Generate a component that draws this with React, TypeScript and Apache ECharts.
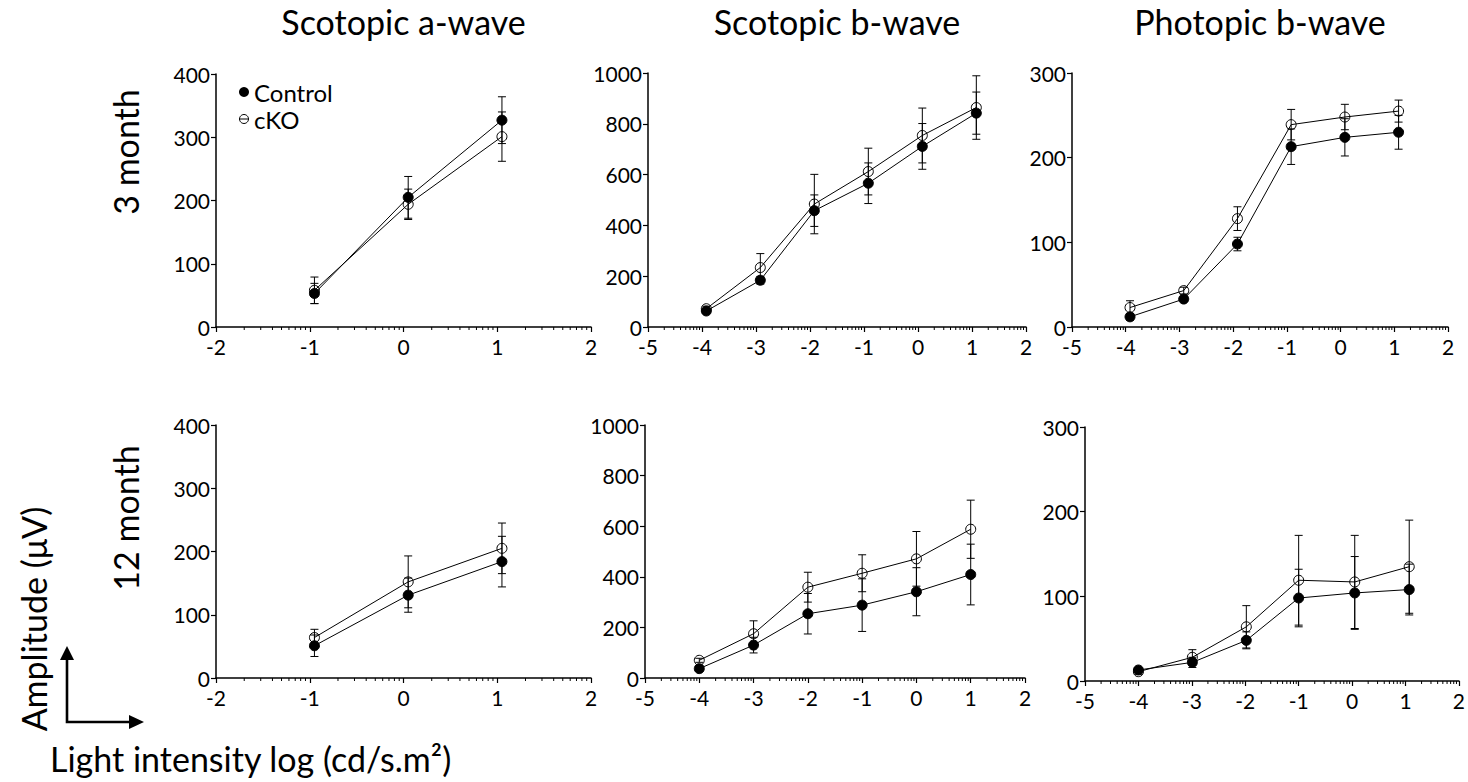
import React, { useEffect, useRef } from "react";
import * as echarts from "echarts";

// ---- data (log light intensity on x, amplitude µV on y) ----
const xA = [-0.95, 0.05, 1.05];
const xB3 = [-3.92, -2.92, -1.92, -0.92, 0.08, 1.08];
const xB12 = [-4, -3, -2, -1, 0, 1];
const xP12 = [-4, -2.99, -1.98, -1, 0.05, 1.07];

const aw3Ctrl = [53, 205, 327];
const aw3CtrlErr = [16, 33, 37];
const aw3Cko = [58, 194, 301];
const aw3CkoErr = [21, 24, 39];

const bw3Ctrl = [63, 184, 458, 566, 711, 842];
const bw3CtrlErr = [10, 15, 62, 80, 90, 83];
const bw3Cko = [72, 234, 484, 612, 754, 864];
const bw3CkoErr = [10, 55, 117, 92, 108, 125];

const pw3Ctrl = [12, 33, 98, 213, 224, 230];
const pw3CtrlErr = [4, 3, 8, 21, 22, 20];
const pw3Cko = [23, 43, 128, 239, 248, 255];
const pw3CkoErr = [8, 4, 14, 18, 15, 13];

const aw12Ctrl = [51, 131, 184];
const aw12CtrlErr = [17, 27, 40];
const aw12Cko = [64, 152, 205];
const aw12CkoErr = [13, 41, 40];

const bw12Ctrl = [37, 130, 254, 288, 341, 409];
const bw12CtrlErr = [10, 31, 80, 104, 95, 120];
const bw12Cko = [70, 175, 359, 414, 471, 588];
const bw12CkoErr = [8, 51, 59, 73, 108, 115];

const pw12Ctrl = [13, 22, 48, 98, 104, 108];
const pw12CtrlErr = [3, 6, 10, 34, 43, 30];
const pw12Cko = [11, 28, 64, 119, 117, 135];
const pw12CkoErr = [3, 9, 25, 53, 55, 55];

const columnTitles = ["Scotopic a-wave", "Scotopic b-wave", "Photopic b-wave"];
const rowTitles = ["3 month", "12 month"];
const seriesNames = ["Control", "cKO"];
const minorMultipliers = [2, 3, 4, 5, 6, 7, 8, 9];

const FONT = "Lato";

type Panel = {
  grid: { left: number; top: number; width: number; height: number };
  xMin: number;
  xMax: number;
  yMax: number;
  yInterval: number;
  x: number[];
  ctrl: number[];
  ctrlErr: number[];
  cko: number[];
  ckoErr: number[];
};

const panels: Panel[] = [
  { grid: { left: 216, top: 74, width: 375, height: 253 }, xMin: -2, xMax: 2, yMax: 400, yInterval: 100, x: xA, ctrl: aw3Ctrl, ctrlErr: aw3CtrlErr, cko: aw3Cko, ckoErr: aw3CkoErr },
  { grid: { left: 648, top: 73, width: 378, height: 254 }, xMin: -5, xMax: 2, yMax: 1000, yInterval: 200, x: xB3, ctrl: bw3Ctrl, ctrlErr: bw3CtrlErr, cko: bw3Cko, ckoErr: bw3CkoErr },
  { grid: { left: 1072, top: 73, width: 376, height: 254 }, xMin: -5, xMax: 2, yMax: 300, yInterval: 100, x: xB3, ctrl: pw3Ctrl, ctrlErr: pw3CtrlErr, cko: pw3Cko, ckoErr: pw3CkoErr },
  { grid: { left: 216, top: 425, width: 375, height: 253 }, xMin: -2, xMax: 2, yMax: 400, yInterval: 100, x: xA, ctrl: aw12Ctrl, ctrlErr: aw12CtrlErr, cko: aw12Cko, ckoErr: aw12CkoErr },
  { grid: { left: 645, top: 425, width: 380, height: 253 }, xMin: -5, xMax: 2, yMax: 1000, yInterval: 200, x: xB12, ctrl: bw12Ctrl, ctrlErr: bw12CtrlErr, cko: bw12Cko, ckoErr: bw12CkoErr },
  { grid: { left: 1085, top: 427, width: 375, height: 254 }, xMin: -5, xMax: 2, yMax: 300, yInterval: 100, x: xP12, ctrl: pw12Ctrl, ctrlErr: pw12CtrlErr, cko: pw12Cko, ckoErr: pw12CkoErr },
];

function buildOption() {
  const grids: any[] = [];
  const xAxes: any[] = [];
  const yAxes: any[] = [];
  const series: any[] = [];

  panels.forEach((p, i) => {
    grids.push({ ...p.grid, containLabel: false });
    xAxes.push({
      type: "value",
      gridIndex: i,
      min: p.xMin,
      max: p.xMax,
      interval: 1,
      splitLine: { show: false },
      axisLine: { show: true, onZero: false, lineStyle: { color: "#000", width: 1.5 } },
      axisTick: { show: true, length: 5, lineStyle: { color: "#000", width: 1.2 } },
      axisLabel: { color: "#000", fontSize: 21, fontFamily: FONT, margin: 9, formatter: (v: number) => String(v) },
    });
    yAxes.push({
      type: "value",
      gridIndex: i,
      min: 0,
      max: p.yMax,
      interval: p.yInterval,
      splitLine: { show: false },
      axisLine: { show: true, onZero: false, lineStyle: { color: "#000", width: 1.5 } },
      axisTick: { show: true, length: 5, lineStyle: { color: "#000", width: 1.2 } },
      axisLabel: { color: "#000", fontSize: 21, fontFamily: FONT, margin: 6, formatter: (v: number) => String(v) },
    });

    // log-style minor ticks between decades
    const minor: number[][] = [];
    for (let k = p.xMin; k < p.xMax; k++) {
      minorMultipliers.forEach((m) => minor.push([k + Math.log10(m), 0]));
    }
    series.push({
      type: "custom",
      xAxisIndex: i,
      yAxisIndex: i,
      data: minor,
      encode: { x: 0, y: 1 },
      silent: true,
      clip: false,
      renderItem: (_params: any, api: any) => {
        const c = api.coord([api.value(0), 0]);
        return {
          type: "line",
          shape: { x1: c[0], y1: c[1], x2: c[0], y2: c[1] + 3 },
          style: { stroke: "#000", lineWidth: 1 },
        };
      },
    });

    const errorSeries = (vals: number[], errs: number[]) => ({
      type: "custom",
      xAxisIndex: i,
      yAxisIndex: i,
      data: vals.map((v, j) => [p.x[j], v - errs[j], v + errs[j]]),
      encode: { x: 0, y: [1, 2] },
      silent: true,
      z: 1,
      renderItem: (_params: any, api: any) => {
        const x = api.value(0);
        const lo = api.coord([x, api.value(1)]);
        const hi = api.coord([x, api.value(2)]);
        const w = 4;
        const st = { stroke: "#000", lineWidth: 1 };
        return {
          type: "group",
          children: [
            { type: "line", shape: { x1: lo[0], y1: lo[1], x2: hi[0], y2: hi[1] }, style: st },
            { type: "line", shape: { x1: hi[0] - w, y1: hi[1], x2: hi[0] + w, y2: hi[1] }, style: st },
            { type: "line", shape: { x1: lo[0] - w, y1: lo[1], x2: lo[0] + w, y2: lo[1] }, style: st },
          ],
        };
      },
    });
    series.push(errorSeries(p.ctrl, p.ctrlErr));
    series.push(errorSeries(p.cko, p.ckoErr));

    series.push({
      name: seriesNames[0],
      type: "line",
      xAxisIndex: i,
      yAxisIndex: i,
      data: p.ctrl.map((v, j) => [p.x[j], v]),
      symbol: "circle",
      symbolSize: 10,
      z: 3,
      lineStyle: { color: "#000", width: 1 },
      itemStyle: { color: "#000", borderColor: "#000", borderWidth: 1 },
    });
    series.push({
      name: seriesNames[1],
      type: "line",
      xAxisIndex: i,
      yAxisIndex: i,
      data: p.cko.map((v, j) => [p.x[j], v]),
      symbol: "circle",
      symbolSize: 10,
      z: 3,
      lineStyle: { color: "#000", width: 1 },
      itemStyle: { color: "rgba(0,0,0,0)", borderColor: "#000", borderWidth: 1 },
    });
  });

  const titleCenters = [0, 1, 2].map((c) => panels[c].grid.left + panels[c].grid.width / 2);

  const graphic: any[] = [
    ...columnTitles.map((t, c) => ({
      type: "text",
      x: titleCenters[c],
      y: 21,
      style: { text: t, font: `34px ${FONT}`, fill: "#000", align: "center", verticalAlign: "middle" },
    })),
    {
      type: "text",
      x: 125,
      y: 152,
      rotation: Math.PI / 2,
      style: { text: rowTitles[0], font: `34px ${FONT}`, fill: "#000", align: "center", verticalAlign: "middle" },
    },
    {
      type: "text",
      x: 125,
      y: 518,
      rotation: Math.PI / 2,
      style: { text: rowTitles[1], font: `34px ${FONT}`, fill: "#000", align: "center", verticalAlign: "middle" },
    },
    {
      type: "text",
      x: 33,
      y: 619,
      rotation: Math.PI / 2,
      style: { text: "Amplitude (\u03bcV)", font: `34px ${FONT}`, fill: "#000", align: "center", verticalAlign: "middle" },
    },
    {
      type: "text",
      x: 50,
      y: 758,
      style: { text: "Light intensity log (cd/s.m\u00b2)", font: `34px ${FONT}`, fill: "#000", align: "left", verticalAlign: "middle" },
    },
    // arrows
    {
      type: "polyline",
      shape: { points: [[67, 658], [67, 722], [131, 722]] },
      style: { stroke: "#000", lineWidth: 2.6, fill: "none" },
    },
    { type: "polygon", shape: { points: [[60, 660], [74, 660], [67, 646]] }, style: { fill: "#000" } },
    { type: "polygon", shape: { points: [[129, 715], [129, 729], [144, 722]] }, style: { fill: "#000" } },
    // legend
    { type: "circle", shape: { cx: 244, cy: 92, r: 5 }, style: { fill: "#000" } },
    {
      type: "text",
      x: 254,
      y: 92,
      style: { text: seriesNames[0], font: `24px ${FONT}`, fill: "#000", align: "left", verticalAlign: "middle" },
    },
    { type: "circle", shape: { cx: 244, cy: 119, r: 4.5 }, style: { fill: "none", stroke: "#000", lineWidth: 1 } },
    { type: "line", shape: { x1: 239.5, y1: 119, x2: 248.5, y2: 119 }, style: { stroke: "#000", lineWidth: 1 } },
    {
      type: "text",
      x: 254,
      y: 119,
      style: { text: seriesNames[1], font: `24px ${FONT}`, fill: "#000", align: "left", verticalAlign: "middle" },
    },
  ];

  return {
    animation: false,
    backgroundColor: "#fff",
    textStyle: { fontFamily: FONT },
    grid: grids,
    xAxis: xAxes,
    yAxis: yAxes,
    series,
    graphic,
  };
}

export default function App() {
  const ref = useRef<HTMLDivElement>(null);
  useEffect(() => {
    document.body.style.margin = "0";
    if (!ref.current) return;
    const chart = echarts.init(ref.current, null, { renderer: "svg" });
    chart.setOption(buildOption());
    return () => chart.dispose();
  }, []);
  return <div ref={ref} style={{ width: 1468, height: 782 }} />;
}
